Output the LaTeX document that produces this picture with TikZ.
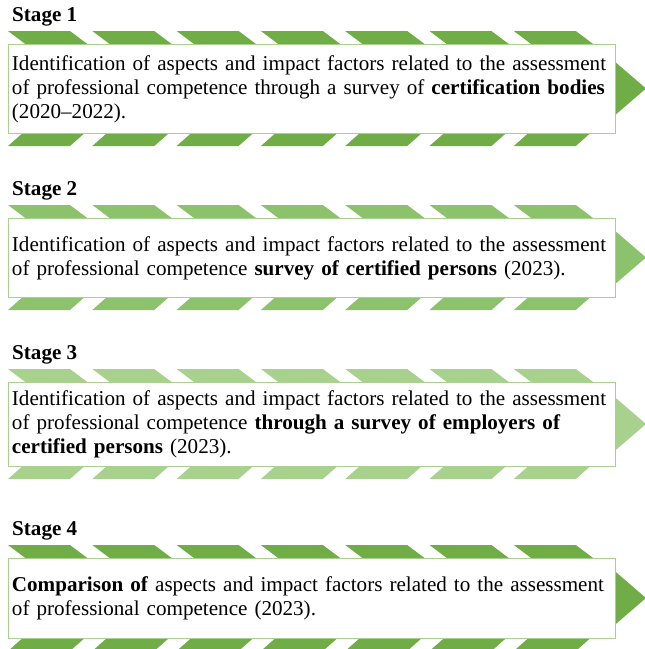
\documentclass[tikz,border=0pt]{standalone}
\usepackage{fontspec}
\setmainfont{Liberation Serif}
\usepackage{xcolor}
\usepackage{tikz}
\definecolor{stageGreen}{HTML}{70AD47}
\definecolor{stageGreenLight}{HTML}{8DC26D}
\definecolor{stageGreenPale}{HTML}{A9D18E}
\definecolor{boxLine}{HTML}{A9D18E}
\newcommand{\stagefont}{\fontsize{21.1}{24}\selectfont\hyphenpenalty=10000}

\begin{document}
\begin{tikzpicture}[x=1pt, y=1pt,
    stagebox/.style={draw=boxLine, line width=0.9pt, fill=white, anchor=north west,
        text width=600pt, inner xsep=3.5pt, inner ysep=0pt, align=left, font=\stagefont},
    stagelabel/.style={anchor=base west, inner sep=0pt, font=\stagefont\bfseries}]

    \useasboundingbox (0,0) rectangle (645,-649);

    % Stage 1
    \begin{scope}
        \foreach \i in {0,...,6} {
            \fill[stageGreen] ({8+84.3*\i},-31) -- ++(62,0) -- ++(20,-15) -- ++(-62,0) -- cycle;
            \fill[stageGreen] ({8+84.3*\i},-146) -- ++(62,0) -- ++(17,15) -- ++(-62,0) -- cycle;
        }
        \fill[stageGreen] (610,-57.5) -- (646,-88.5) -- (610,-119.5) -- cycle;
        \node[stagelabel] (lab1) at (12,-21) {Stage 1};
        \node[stagebox, minimum height=89pt] (box1) at (8,-44)
            {Identification of aspects and impact factors related to the assessment\\
             of professional competence through a survey of \textbf{certification bodies}\\
             (2020--2022).};
    \end{scope}

    % Stage 2
    \begin{scope}[yshift=-174pt]
        \foreach \i in {0,...,6} {
            \fill[stageGreenLight] ({8+84.3*\i},-31) -- ++(62,0) -- ++(20,-15) -- ++(-62,0) -- cycle;
            \fill[stageGreenLight] ({8+84.3*\i},-136) -- ++(62,0) -- ++(17,15) -- ++(-62,0) -- cycle;
        }
        \fill[stageGreenLight] (610,-52.5) -- (646,-83.5) -- (610,-114.5) -- cycle;
        \node[stagelabel] (lab2) at (12,-21) {Stage 2};
        \node[stagebox, minimum height=79pt] (box2) at (8,-44)
            {Identification of aspects and impact factors related to the assessment\\
             of professional competence \textbf{survey of certified persons} (2023).};
    \end{scope}

    % Stage 3
    \begin{scope}[yshift=-338pt]
        \foreach \i in {0,...,6} {
            \fill[stageGreenPale] ({8+84.3*\i},-31) -- ++(62,0) -- ++(20,-15) -- ++(-62,0) -- cycle;
            \fill[stageGreenPale] ({8+84.3*\i},-141) -- ++(62,0) -- ++(17,15) -- ++(-62,0) -- cycle;
        }
        \fill[stageGreenPale] (610,-55) -- (646,-86) -- (610,-117) -- cycle;
        \node[stagelabel] (lab3) at (12,-21) {Stage 3};
        \node[stagebox, minimum height=84pt] (box3) at (8,-44)
            {Identification of aspects and impact factors related to the assessment\\
             of professional competence \textbf{through a survey of employers of}\\
             \textbf{certified persons} (2023).};
    \end{scope}

    % Stage 4
    \begin{scope}[yshift=-514pt]
        \foreach \i in {0,...,6} {
            \fill[stageGreen] ({8+84.3*\i},-31) -- ++(62,0) -- ++(20,-15) -- ++(-62,0) -- cycle;
            \fill[stageGreen] ({8+84.3*\i},-137) -- ++(62,0) -- ++(17,15) -- ++(-62,0) -- cycle;
        }
        \fill[stageGreen] (610,-53) -- (646,-84) -- (610,-115) -- cycle;
        \node[stagelabel] (lab4) at (12,-21) {Stage 4};
        \node[stagebox, minimum height=80pt] (box4) at (8,-44)
            {\textbf{Comparison of} aspects and impact factors related to the assessment\\
             of professional competence (2023).};
    \end{scope}
\end{tikzpicture}
\end{document}
